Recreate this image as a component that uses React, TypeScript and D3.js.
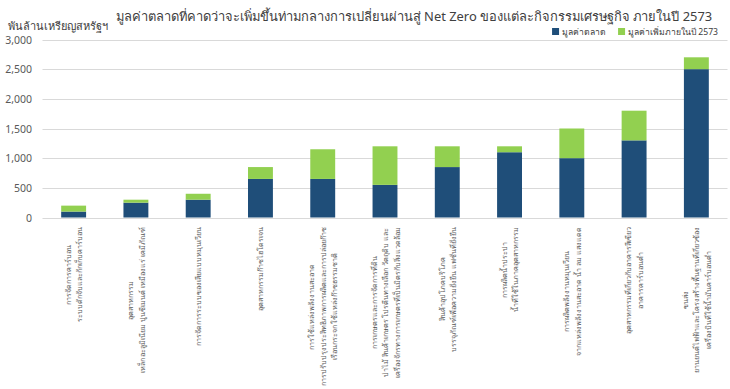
import * as d3 from 'd3';
import { useEffect, useRef } from 'react';

const W = 730;
const H = 389;

const title =
  'มูลค่าตลาดที่คาดว่าจะเพิ่มขึ้นท่ามกลางการเปลี่ยนผ่านสู่ Net Zero ของแต่ละกิจกรรมเศรษฐกิจ ภายในปี 2573';
const yTitle = 'พันล้านเหรียญสหรัฐฯ';

// each category is split in the lines it shows under the axis
const categories: string[][] = [
  ['การจัดการคาร์บอน', 'ระบบดักจับและกักเก็บคาร์บอน'],
  ['อุตสาหกรรม', 'เหล็ก อะลูมิเนียม ปูนซีเมนต์ เหมืองแร่ เคมีภัณฑ์'],
  ['การจัดการระบบของเสียแบบหมุนเวียน'],
  ['อุตสาหกรรมก๊าซไฮโดรเจน'],
  [
    'การใช้แหล่งพลังงานสะอาด',
    'การปรับปรุงประสิทธิภาพการผลิตและการปล่อยก๊าซ',
    'เรือนกระจก ใช้แหล่งก๊าซธรรมชาติ',
  ],
  [
    'การเกษตรและการจัดการที่ดิน',
    'ป่าไม้ สินค้าเกษตร โปรตีนทางเลือก วัตถุดิบ และ',
    'เครื่องจักรทางการเกษตรที่เป็นมิตรกับสิ่งแวดล้อม',
  ],
  ['สินค้าอุปโภคบริโภค', 'บรรจุภัณฑ์เพื่อความยั่งยืน แฟชั่นที่ยั่งยืน'],
  ['การผลิตน้ำประปา', 'น้ำที่ใช้ในภาคอุตสาหกรรม'],
  ['การผลิตพลังงานหมุนเวียน', 'จากแหล่งพลังงานสะอาด น้ำ ลม แสงแดด'],
  ['อุตสาหกรรมที่เกี่ยวกับอาคารสีเขียว', 'อาคารคาร์บอนต่ำ'],
  [
    'ขนส่ง',
    'ยานยนต์ไฟฟ้าและโครงสร้างพื้นฐานที่เกี่ยวข้อง',
    'เครื่องบินที่ใช้น้ำมันคาร์บอนต่ำ',
  ],
];

const marketValue = [100, 250, 300, 650, 650, 550, 850, 1100, 1000, 1300, 2500];
const addedValue = [100, 50, 100, 200, 500, 650, 350, 100, 500, 500, 200];

const seriesNames = ['มูลค่าตลาด', 'มูลค่าเพิ่มภายในปี 2573'];
const seriesColors = ['#1f4e79', '#92d050'];
const yTicks = [0, 500, 1000, 1500, 2000, 2500, 3000];

const FONT = 'Tahoma, "Noto Sans", sans-serif';

// shrink a text element's font until it is no longer than maxLen
function fitText(sel: d3.Selection<SVGTextElement, unknown, null, undefined>, size: number, maxLen: number) {
  sel.attr('font-size', size);
  const len = sel.node()!.getComputedTextLength();
  if (len > maxLen) sel.attr('font-size', (size * maxLen) / len);
  return sel;
}

export default function App() {
  const svgRef = useRef<SVGSVGElement>(null);

  useEffect(() => {
    if (!svgRef.current) return;
    const svg = d3.select(svgRef.current);
    svg.selectAll('*').remove();

    const margin = { top: 39.5, left: 42.5, right: 2.5, bottom: 171.5 };
    const plotBottom = H - margin.bottom;

    const x = d3
      .scaleBand<number>()
      .domain(d3.range(categories.length))
      .range([margin.left, W - margin.right])
      .paddingInner(0.6)
      .paddingOuter(0.3);
    const y = d3.scaleLinear().domain([0, 3000]).range([plotBottom, margin.top]);

    svg.append('rect').attr('width', W).attr('height', H).attr('fill', '#fff');

    // Grid
    svg
      .append('g')
      .selectAll('line')
      .data(yTicks)
      .join('line')
      .attr('x1', margin.left)
      .attr('x2', W - margin.right)
      .attr('y1', (d) => Math.round(y(d)) + 0.5)
      .attr('y2', (d) => Math.round(y(d)) + 0.5)
      .attr('stroke', '#d9d9d9');

    // Y tick labels
    svg
      .append('g')
      .selectAll('text')
      .data(yTicks)
      .join('text')
      .attr('x', 32)
      .attr('y', (d) => y(d) + 4)
      .attr('text-anchor', 'end')
      .attr('font-size', 10.5)
      .attr('fill', '#595959')
      .text((d) => d3.format(',')(d));

    // Stacked bars
    const rows = categories.map((_, i) => ({ i, market: marketValue[i], added: addedValue[i] }));
    const stack = d3.stack<(typeof rows)[number]>().keys(['market', 'added'])(rows as any);
    stack.forEach((layer, li) => {
      svg
        .append('g')
        .attr('fill', seriesColors[li])
        .selectAll('rect')
        .data(layer)
        .join('rect')
        .attr('x', (d) => x(d.data.i)!)
        .attr('width', x.bandwidth())
        .attr('y', (d) => y(d[1]))
        .attr('height', (d) => y(d[0]) - y(d[1]));
    });

    // Category labels, rotated and hanging from the axis
    const labelTop = 227;
    const lineGap = 11.5;
    const labelSize = 9;
    const labelMax = 158;
    const labels = categories.map((lines, i) => {
      const cx = x(i)! + x.bandwidth() / 2;
      const t = svg
        .append('text')
        .attr('font-size', labelSize)
        .attr('fill', '#595959')
        .attr('text-anchor', 'middle')
        .attr('transform', `translate(${cx},${labelTop}) rotate(-90)`);
      const spans = t
        .selectAll('tspan')
        .data(lines)
        .join('tspan')
        .attr('x', 0)
        .attr('y', (_, k) => (k - (lines.length - 1) / 2) * lineGap + 3)
        .text((d) => d);
      return { t, spans };
    });
    let longest = 0;
    labels.forEach(({ spans }) =>
      spans.each(function () {
        longest = Math.max(longest, (this as SVGTSpanElement).getComputedTextLength());
      })
    );
    const k = Math.min(1, labelMax / longest);
    labels.forEach(({ t, spans }) => {
      t.attr('font-size', labelSize * k);
      let maxLen = 0;
      spans.each(function () {
        maxLen = Math.max(maxLen, (this as SVGTSpanElement).getComputedTextLength());
      });
      spans.attr('x', -maxLen / 2);
    });

    // Title
    const tt = svg
      .append('text')
      .attr('x', 414)
      .attr('y', 21)
      .attr('text-anchor', 'middle')
      .attr('fill', '#404040')
      .text(title);
    fitText(tt, 13, 602);

    const yt = svg
      .append('text')
      .attr('x', 8)
      .attr('y', 30)
      .attr('fill', '#404040')
      .text(yTitle);
    fitText(yt, 11, 100);

    // Legend, laid out from the right edge
    let right = 718;
    for (let i = seriesNames.length - 1; i >= 0; i--) {
      const lg = svg.append('g');
      const txt = lg
        .append('text')
        .attr('y', 35)
        .attr('fill', '#404040')
        .text(seriesNames[i]);
      fitText(txt, 10, i === 0 ? 43 : 91);
      const len = txt.node()!.getComputedTextLength();
      txt.attr('x', right - len);
      lg.append('rect')
        .attr('x', right - len - 10)
        .attr('y', 28)
        .attr('width', 7)
        .attr('height', 7)
        .attr('fill', seriesColors[i]);
      right = right - len - 22;
    }
  }, []);

  return (
    <svg
      ref={svgRef}
      width={W}
      height={H}
      style={{ position: 'absolute', left: 0, top: 0, fontFamily: FONT }}
    />
  );
}
